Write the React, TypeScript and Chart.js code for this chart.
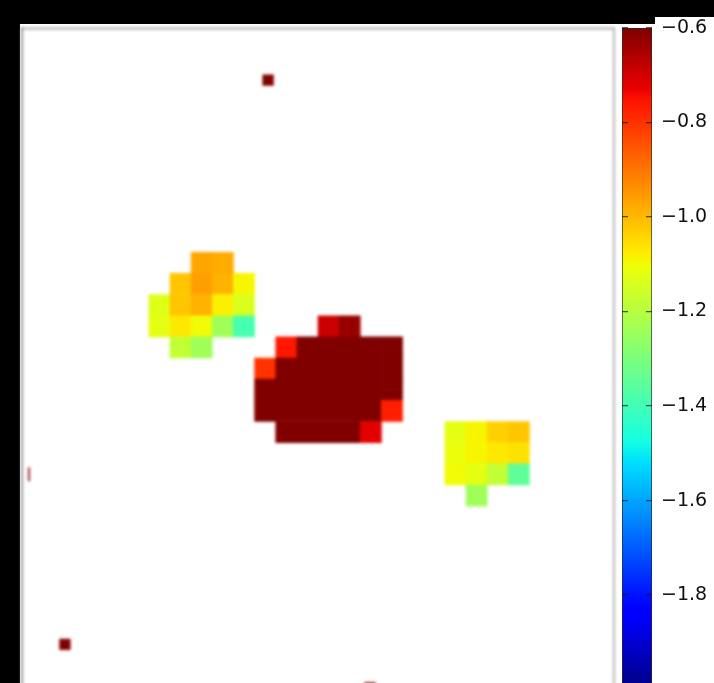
import React, { useEffect, useRef } from 'react';
import { Chart, registerables } from 'chart.js';

Chart.register(...registerables);

// colour scale
const VMIN = -2.0;
const VMAX = -0.6;
const colorbarTicks = [-0.6, -0.8, -1.0, -1.2, -1.4, -1.6, -1.8];

// image grid extent (column / row units)
const X_MIN = 0;
const X_MAX = 28;
const Y_MIN = 0.4;
const Y_MAX = 32;

// heat-map cells: column, row, value
const cellCols = [
  8, 9,
  7, 8, 9, 10,
  6, 7, 8, 9, 10,
  6, 7, 8, 9, 10,
  7, 8,
  14, 15,
  12, 13, 14, 15, 16, 17,
  11, 12, 13, 14, 15, 16, 17,
  11, 12, 13, 14, 15, 16, 17,
  11, 12, 13, 14, 15, 16, 17,
  12, 13, 14, 15, 16,
  20, 21, 22, 23,
  20, 21, 22, 23,
  20, 21, 22, 23,
  21,
];
const cellRows = [
  11, 11,
  12, 12, 12, 12,
  13, 13, 13, 13, 13,
  14, 14, 14, 14, 14,
  15, 15,
  14, 14,
  15, 15, 15, 15, 15, 15,
  16, 16, 16, 16, 16, 16, 16,
  17, 17, 17, 17, 17, 17, 17,
  18, 18, 18, 18, 18, 18, 18,
  19, 19, 19, 19, 19,
  19, 19, 19, 19,
  20, 20, 20, 20,
  21, 21, 21, 21,
  22,
];
const cellValues = [
  -0.97, -0.98,
  -1.02, -0.96, -0.99, -1.09,
  -1.13, -1.02, -0.99, -1.08, -1.14,
  -1.12, -1.07, -1.10, -1.24, -1.39,
  -1.18, -1.24,
  -0.69, -0.63,
  -0.76, -0.55, -0.5, -0.5, -0.5, -0.55,
  -0.80, -0.55, -0.5, -0.5, -0.5, -0.5, -0.5,
  -0.6, -0.5, -0.5, -0.5, -0.5, -0.5, -0.5,
  -0.6, -0.5, -0.5, -0.5, -0.5, -0.5, -0.77,
  -0.55, -0.5, -0.5, -0.55, -0.72,
  -1.12, -1.09, -1.035, -1.02,
  -1.11, -1.09, -1.07, -1.06,
  -1.10, -1.12, -1.18, -1.35,
  -1.24,
];

// isolated single pixels (rendered shrunken by interpolation)
const speckCols = [11.64, 2.03, 16.46];
const speckRows = [2.86, 29.54, 31.6];
const speckValues = [-0.5, -0.5, -0.5];

// sliver of a pixel at the left border
const edgeCols = [0.33];
const edgeRows = [21.5];
const edgeValues = [-0.55];

// matplotlib "jet" segment data
const JET_R: [number, number][] = [[0, 0], [0.35, 0], [0.66, 1], [0.89, 1], [1, 0.5]];
const JET_G: [number, number][] = [[0, 0], [0.125, 0], [0.375, 1], [0.64, 1], [0.91, 0], [1, 0]];
const JET_B: [number, number][] = [[0, 0.5], [0.11, 1], [0.34, 1], [0.65, 0], [1, 0]];

function clamp(v: number, a: number, b: number) {
  return Math.max(a, Math.min(b, v));
}
function seg(pts: [number, number][], t: number) {
  for (let i = 1; i < pts.length; i++) {
    if (t <= pts[i][0]) {
      const [x0, y0] = pts[i - 1];
      const [x1, y1] = pts[i];
      return y0 + ((t - x0) / (x1 - x0)) * (y1 - y0);
    }
  }
  return pts[pts.length - 1][1];
}
function jetRGB(t: number): [number, number, number] {
  t = clamp(t, 0, 1);
  return [
    Math.round(seg(JET_R, t) * 255),
    Math.round(seg(JET_G, t) * 255),
    Math.round(seg(JET_B, t) * 255),
  ];
}
function jetColor(v: number, alpha = 1) {
  const [r, g, b] = jetRGB((v - VMIN) / (VMAX - VMIN));
  return `rgba(${r},${g},${b},${alpha})`;
}

function cellRadius(chart: any) {
  const sx = chart.scales.x;
  const sy = chart.scales.y;
  if (!sx || !sy) return 15;
  const w = Math.abs(sx.getPixelForValue(1) - sx.getPixelForValue(0));
  const h = Math.abs(sy.getPixelForValue(1) - sy.getPixelForValue(0));
  return (Math.max(w, h) + 0.6) / Math.SQRT2;
}

const hiddenAxis = {
  ticks: { display: false },
  grid: { display: false, drawTicks: false },
};

export default function App() {
  const mainRef = useRef<HTMLCanvasElement>(null);
  const cbRef = useRef<HTMLCanvasElement>(null);

  useEffect(() => {
    const main = new Chart(mainRef.current as HTMLCanvasElement, {
      type: 'scatter',
      data: {
        datasets: [
          {
            label: 'cells',
            data: cellCols.map((c, i) => ({ x: c + 0.5, y: cellRows[i] + 0.5, v: cellValues[i] })),
            pointStyle: 'rect',
            pointRadius: (ctx: any) => cellRadius(ctx.chart),
            pointHoverRadius: (ctx: any) => cellRadius(ctx.chart),
            backgroundColor: (ctx: any) => jetColor(ctx.raw ? ctx.raw.v : VMIN),
            borderWidth: 0,
            clip: 0,
          } as any,
          {
            label: 'specks',
            data: speckCols.map((c, i) => ({ x: c, y: speckRows[i], v: speckValues[i] })),
            pointStyle: 'rect',
            pointRadius: 8,
            pointHoverRadius: 8,
            backgroundColor: (ctx: any) => jetColor(ctx.raw ? ctx.raw.v : VMIN),
            borderWidth: 0,
            clip: 0,
          } as any,
          {
            label: 'edge',
            data: edgeCols.map((c, i) => ({ x: c, y: edgeRows[i], v: edgeValues[i] })),
            pointStyle: 'line',
            rotation: 90,
            pointRadius: 7,
            pointHoverRadius: 7,
            borderColor: (ctx: any) => jetColor(ctx.raw ? ctx.raw.v : VMIN, 0.85),
            borderWidth: 2,
            clip: 0,
          } as any,
        ],
      },
      options: {
        animation: false,
        responsive: false,
        events: [],
        layout: { autoPadding: false, padding: { left: 22, right: 2, top: 28, bottom: 13.5 } },
        plugins: { legend: { display: false }, tooltip: { enabled: false } },
        scales: {
          x: {
            type: 'linear', position: 'bottom', min: X_MIN, max: X_MAX,
            ...hiddenAxis, border: { display: true, color: '#aaaaaa', width: 2 },
          },
          xTop: {
            type: 'linear', position: 'top', min: X_MIN, max: X_MAX,
            ...hiddenAxis, border: { display: true, color: '#c6c6c6', width: 3 },
          },
          y: {
            type: 'linear', position: 'left', reverse: true, min: Y_MIN, max: Y_MAX,
            ...hiddenAxis, border: { display: true, color: '#8c8c8c', width: 2 },
          },
          yRight: {
            type: 'linear', position: 'right', reverse: true, min: Y_MIN, max: Y_MAX,
            ...hiddenAxis, border: { display: true, color: '#b4b4b4', width: 2 },
          },
        },
      } as any,
    });

    const cb = new Chart(cbRef.current as HTMLCanvasElement, {
      type: 'bar',
      data: {
        labels: ['colorbar'],
        datasets: [
          {
            data: [[VMIN, VMAX]],
            barPercentage: 1,
            categoryPercentage: 1,
            borderWidth: 1,
            borderColor: '#2a2a2a',
            borderSkipped: false,
            backgroundColor: (ctx: any) => {
              const chart = ctx.chart;
              const ys = chart.scales.y;
              if (!chart.chartArea || !ys) return jetColor(VMAX);
              const y0 = ys.getPixelForValue(VMIN);
              const y1 = ys.getPixelForValue(VMAX);
              const g = chart.ctx.createLinearGradient(0, y0, 0, y1);
              const n = 100;
              for (let i = 0; i <= n; i++) {
                const t = i / n;
                const [r, gg, b] = jetRGB(t);
                g.addColorStop(t, `rgb(${r},${gg},${b})`);
              }
              return g;
            },
          } as any,
        ],
      },
      options: {
        animation: false,
        responsive: false,
        events: [],
        layout: { autoPadding: false, padding: { left: 22, right: 0, top: 28, bottom: 13.5 } },
        plugins: { legend: { display: false }, tooltip: { enabled: false } },
        scales: {
          x: { display: false },
          y: {
            type: 'linear',
            position: 'right',
            min: VMIN,
            max: VMAX,
            afterFit: (scale: any) => { scale.width = 62; },
            afterBuildTicks: (scale: any) => {
              scale.ticks = colorbarTicks.map((v) => ({ value: v }));
            },
            grid: { display: true, drawOnChartArea: true, drawTicks: false, color: 'rgba(20,20,20,0.7)', lineWidth: 1.2, z: 1 },
            border: { display: false, dash: [6, 18] },
            ticks: {
              padding: 9,
              color: '#111111',
              font: { family: 'DejaVu Sans', size: 19 },
              callback: (v: any) => (Number(v) < 0 ? '\u2212' : '') + Math.abs(Number(v)).toFixed(1),
            },
          },
        },
      } as any,
    });

    return () => {
      main.destroy();
      cb.destroy();
    };
  }, []);

  return (
    <>
      <style>{`html,body{margin:0;padding:0;background:#000;overflow:hidden;}`}</style>
      <div style={{ position: 'relative', width: 714, height: 710, background: '#000', overflow: 'hidden' }}>
        <div style={{ position: 'absolute', left: 20, top: 24, width: 694, height: 686, background: '#fff' }} />
        <div style={{ position: 'absolute', left: 655, top: 17, width: 59, height: 20, background: '#fff' }} />
        <canvas
          ref={mainRef}
          width={616}
          height={710}
          style={{ position: 'absolute', left: 0, top: 0, width: 616, height: 710, filter: 'blur(1.5px)' }}
        />
        <canvas
          ref={cbRef}
          width={114}
          height={710}
          style={{ position: 'absolute', left: 600, top: 0, width: 114, height: 710 }}
        />
      </div>
    </>
  );
}
